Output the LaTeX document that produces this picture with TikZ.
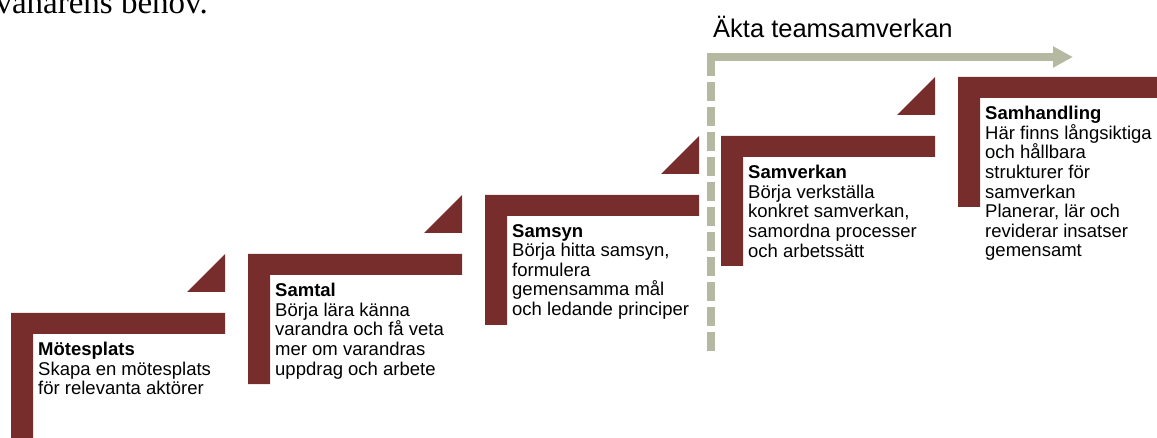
\documentclass[tikz,border=0pt]{standalone}
\usepackage{fontspec}
\setmainfont{Liberation Sans}
\newfontfamily\introfont{Liberation Serif}
\usetikzlibrary{arrows.meta}
\definecolor{stepred}{HTML}{782D2D}
\definecolor{teamgray}{HTML}{B5B9A1}
\newcommand{\stepfont}{\fontsize{18.5}{19.6}\selectfont}
\begin{document}
\begin{tikzpicture}[x=1pt, y=-1pt]
		\tikzstyle{stepshape} = [fill=stepred]
		\tikzstyle{steptext}  = [anchor=north west, inner sep=0pt, align=left, font=\stepfont]
		\tikzstyle{teamline}  = [draw=teamgray, line width=8pt]

		\useasboundingbox (0,0) rectangle (1157,438);

		\node[anchor=base east, inner sep=0pt, font=\introfont\fontsize{33}{36}\selectfont] (intro) at (208,14) {invånarens behov.};

		\foreach \name/\x/\y in {motesplats/11/313, samtal/248/254, samsyn/485/195, samverkan/721/136, samhandling/958/77} {
			\fill[stepshape] (\x,\y) -- ++(214,0) -- ++(0,21) -- ++(-192,0) -- ++(0,109) -- ++(-22,0) -- cycle;
			\coordinate (\name) at (\x+27,\y+29);
		}

		\foreach \x/\y in {11/313, 248/254, 485/195, 721/136}
			\fill[stepshape] (\x+214,\y-21) -- ++(0,-38) -- ++(-38,38) -- cycle;

		\node[steptext] (motesplatstext) at (motesplats) {\textbf{Mötesplats}\\Skapa en mötesplats\\för relevanta aktörer};
		\node[steptext] (samtaltext) at (samtal) {\textbf{Samtal}\\Börja lära känna\\varandra och få veta\\mer om varandras\\uppdrag och arbete};
		\node[steptext] (samsyntext) at (samsyn) {\textbf{Samsyn}\\Börja hitta samsyn,\\formulera\\gemensamma mål\\och ledande principer};
		\node[steptext] (samverkantext) at (samverkan) {\textbf{Samverkan}\\Börja verkställa\\konkret samverkan,\\samordna processer\\och arbetssätt};
		\node[steptext] (samhandlingtext) at (samhandling) {\textbf{Samhandling}\\Här finns långsiktiga\\och hållbara\\strukturer för\\samverkan\\Planerar, lär och\\reviderar insatser\\gemensamt};

		\coordinate (teamcorner) at (711,57);
		\coordinate (teamstart) at (707,57);
		\coordinate (teamend) at (1073,57);
		\coordinate (teambottom) at (711,356);

		\draw[teamline, dash pattern=on 19pt off 6pt] (teamcorner) -- (teambottom);
		\draw[teamline, -{Triangle[length=20pt, width=20pt]}, teamgray] (teamstart) -- (teamend);

		\node[anchor=base west, inner sep=0pt, font=\fontsize{25.5}{28}\selectfont] (teamlabel) at (713,38) {Äkta teamsamverkan};
	\end{tikzpicture}
\end{document}
